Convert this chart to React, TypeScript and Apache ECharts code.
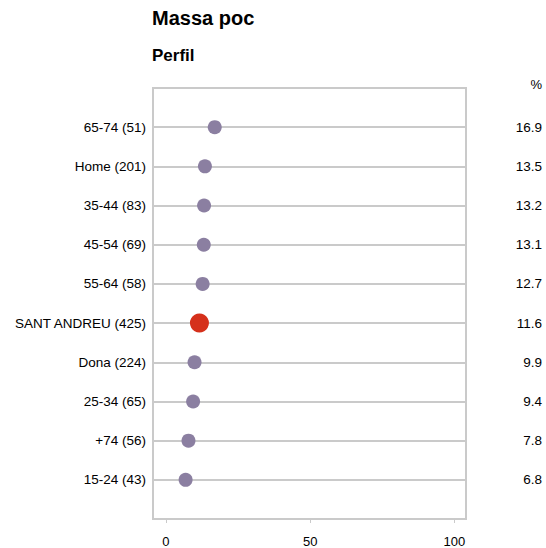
import React, { useEffect, useRef } from "react";
import * as echarts from "echarts";

const categories = [
  "65-74 (51)",
  "Home (201)",
  "35-44 (83)",
  "45-54 (69)",
  "55-64 (58)",
  "SANT ANDREU (425)",
  "Dona (224)",
  "25-34 (65)",
  "+74 (56)",
  "15-24 (43)",
];
const values = [16.9, 13.5, 13.2, 13.1, 12.7, 11.6, 9.9, 9.4, 7.8, 6.8];
const highlight = "SANT ANDREU (425)";
const xTicks = [0, 50, 100];
const unitLabel = "%";

const FONT = "Liberation Sans, Arial, sans-serif";

export default function App() {
  const ref = useRef<HTMLDivElement>(null);
  useEffect(() => {
    if (!ref.current) return;
    const chart = echarts.init(ref.current, undefined, { renderer: "svg" });
    const leftCats = ["", ...categories, ""];
    const rightCats = ["", ...values.map((v) => v.toFixed(1)), ""];
    const data = categories.map((c, i) => {
      const isHi = c === highlight;
      return {
        value: [values[i], i + 1],
        symbolSize: isHi ? 19 : 14,
        itemStyle: { color: isHi ? "#d5301b" : "#8b7fa1", opacity: 1 },
      };
    });
    chart.setOption({
      animation: false,
      textStyle: { fontFamily: FONT },
      title: [
        {
          text: "Massa poc",
          left: 147,
          top: 3,
          textStyle: { fontSize: 20, fontWeight: "bold", color: "#000", fontFamily: FONT },
        },
        {
          text: "Perfil",
          left: 147,
          top: 42,
          textStyle: { fontSize: 17, fontWeight: "bold", color: "#000", fontFamily: FONT },
        },
      ],
      graphic: [
        {
          type: "text",
          x: 542,
          y: 84,
          style: {
            text: unitLabel,
            fontSize: 13,
            fontFamily: FONT,
            fill: "#000",
            textAlign: "right",
            textVerticalAlign: "middle",
          },
        },
      ],
      grid: {
        left: 153,
        right: 80,
        top: 88,
        bottom: 27,
        show: true,
        borderColor: "#cacaca",
        borderWidth: 2,
        containLabel: false,
      },
      xAxis: {
        type: "value",
        min: -4.5,
        max: 104,
        axisLine: { show: false },
        splitLine: { show: false },
        axisTick: {
          show: true,
          customValues: xTicks,
          length: 4,
          lineStyle: { color: "#cacaca" },
        },
        axisLabel: {
          customValues: xTicks,
          fontSize: 13,
          color: "#000",
          margin: 16,
          fontFamily: FONT,
        },
      },
      yAxis: [
        {
          type: "category",
          data: leftCats.map((_, i) => i),
          inverse: true,
          boundaryGap: false,
          axisLine: { show: false },
          axisTick: { show: false },
          splitLine: { show: true, lineStyle: { color: "#cacaca", width: 2 } },
          axisLabel: {
            fontSize: 13.5,
            color: "#000",
            margin: 7,
            interval: 0,
            fontFamily: FONT,
            formatter: (v: string) => leftCats[Number(v)],
          },
        },
        {
          type: "category",
          position: "right",
          data: rightCats.map((_, i) => i),
          inverse: true,
          boundaryGap: false,
          axisLine: { show: false },
          axisTick: { show: false },
          splitLine: { show: false },
          axisLabel: {
            fontSize: 13.5,
            color: "#000",
            margin: 76,
            align: "right",
            interval: 0,
            fontFamily: FONT,
            formatter: (v: string) => rightCats[Number(v)],
          },
        },
      ],
      series: [
        {
          type: "scatter",
          yAxisIndex: 0,
          data,
          z: 5,
        },
      ],
    });
    return () => chart.dispose();
  }, []);
  return <div ref={ref} style={{ width: 546, height: 548, position: "absolute", left: 0, top: 0 }} />;
}
